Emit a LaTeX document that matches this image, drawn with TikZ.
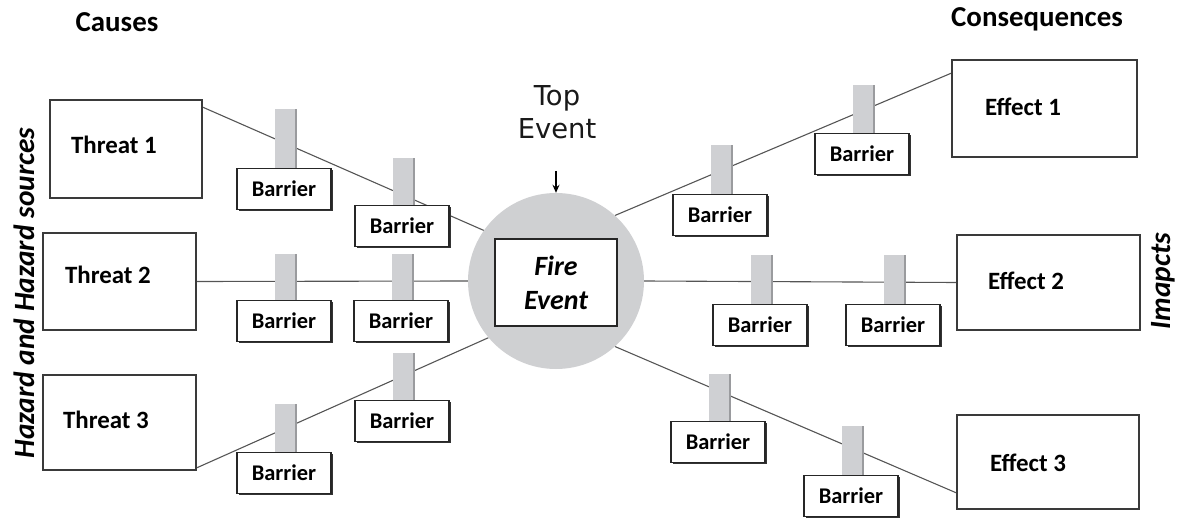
\documentclass[tikz,border=0pt]{standalone}
\usepackage{fontspec}
\setmainfont{Carlito}
\newfontfamily\handfont{DejaVu Sans}
\usetikzlibrary{calc,shadows,backgrounds,arrows.meta}

\definecolor{postgrey}{HTML}{CFD0D3}
\definecolor{postedge}{HTML}{9A9B9E}
\definecolor{circgrey}{HTML}{CFD0D2}
\definecolor{linegrey}{HTML}{555555}
\definecolor{boxedge}{HTML}{3A3A3A}

\tikzset{
  party/.style={draw=boxedge, line width=1.6bp, fill=white, inner sep=0pt},
  partytext/.style={font=\bfseries\fontsize{25}{28}\selectfont, inner sep=0pt},
  headtext/.style={font=\bfseries\fontsize{29}{34}\selectfont, inner sep=0pt},
  sidetext/.style={font=\bfseries\itshape\fontsize{29.5}{34}\selectfont, inner sep=0pt, rotate=90},
  barbox/.style={draw=black!85, line width=1.3bp, fill=white,
    minimum width=94bp, minimum height=41bp, inner sep=0pt,
    font=\bfseries\fontsize{22.5}{25}\selectfont,
    general shadow={fill=black!80, shadow xshift=1.5bp, shadow yshift=-1.5bp}},
  link/.style={draw=linegrey, line width=1.1bp},
}

% barrier: name, box centre x, box centre y, post height
\newcommand{\riskbarrier}[4]{%
  \fill[postgrey] ({#2-9},{#3-20}) rectangle ({#2+12},{#3-20-#4});
  \draw[postedge, line width=1.6bp] ({#2+12},{#3-20}) -- ({#2+12},{#3-20-#4});
  \node[barbox] (#1) at (#2,#3) {Barrier};
}

\begin{document}
\begin{tikzpicture}[x=1bp, y=-1bp]
\useasboundingbox (0,0) rectangle (1180,518);

% headings
\node[headtext] (causes) at (117,22) {Causes};
\node[headtext] (conseq) at (1037,19) {Consequences};
\node[sidetext] (hazards) at (24,293) {Hazard and Hazard sources};
\node[sidetext] (impacts) at (1163,281) {Imapcts};

% threats
\node[party, minimum width=152bp, minimum height=98bp] (t1) at (126,149) {};
\node[party, minimum width=153bp, minimum height=97bp] (t2) at (119.5,281.5) {};
\node[party, minimum width=153bp, minimum height=95bp] (t3) at (119.5,422.5) {};
\node[partytext] (t1text) at (114,145) {Threat 1};
\node[partytext] (t2text) at (108,275) {Threat 2};
\node[partytext] (t3text) at (106,420) {Threat 3};

% effects
\node[party, minimum width=185bp, minimum height=97bp] (e1) at (1044.5,108.5) {};
\node[party, minimum width=183bp, minimum height=95bp] (e2) at (1048.5,282.5) {};
\node[party, minimum width=182bp, minimum height=94bp] (e3) at (1048,462) {};
\node[partytext] (e1text) at (1023,107) {Effect 1};
\node[partytext] (e2text) at (1026,281) {Effect 2};
\node[partytext] (e3text) at (1028,463) {Effect 3};

% top event
\node[circle, fill=circgrey, minimum size=176bp, inner sep=0pt] (fire) at (556,281) {};
\node[draw=black!85, line width=1.3bp, fill=white, minimum width=122bp,
      minimum height=87bp, inner sep=0pt, align=center,
      font=\bfseries\itshape\fontsize{28}{34}\selectfont] (firebox) at (556,282.5) {Fire\\Event};
\node[align=center, inner sep=0pt, text=black!90,
      font=\handfont\fontsize{27.5}{33}\selectfont] (toplabel) at (557,112) {Top\\Event};
\coordinate (arrowstart) at (556,171);
\draw[line width=1.3bp, -{Stealth[length=8bp,width=7bp]}] (arrowstart) -- (fire.north);

% barriers on the cause side
\riskbarrier{b11}{284}{189}{60}
\riskbarrier{b12}{402}{226}{48}
\riskbarrier{b21}{284}{321}{47}
\riskbarrier{b22}{401}{321}{47}
\riskbarrier{b31}{284}{473}{49}
\riskbarrier{b32}{402}{421}{48}

% barriers on the consequence side
\riskbarrier{c11}{720}{215}{50}
\riskbarrier{c12}{862}{154}{49}
\riskbarrier{c21}{760}{325}{50}
\riskbarrier{c22}{893}{325}{50}
\riskbarrier{c31}{718}{442}{48}
\riskbarrier{c32}{851}{496}{50}

% connectors behind everything
\begin{scope}[on background layer]
  \draw[link] ($(t1.north east)+(0,8)$) -- (fire.145);
  \draw[link] (t2.east) -- (fire.180);
  \draw[link] ($(t3.south east)+(0,-3)$) -- (fire.220);
  \draw[link] (fire.48) -- ($(e1.north west)+(0,14)$);
  \draw[link] (fire.0) -- (e2.west);
  \draw[link] (fire.-48) -- ($(e3.south west)+(0,-17)$);
\end{scope}
\end{tikzpicture}
\end{document}
